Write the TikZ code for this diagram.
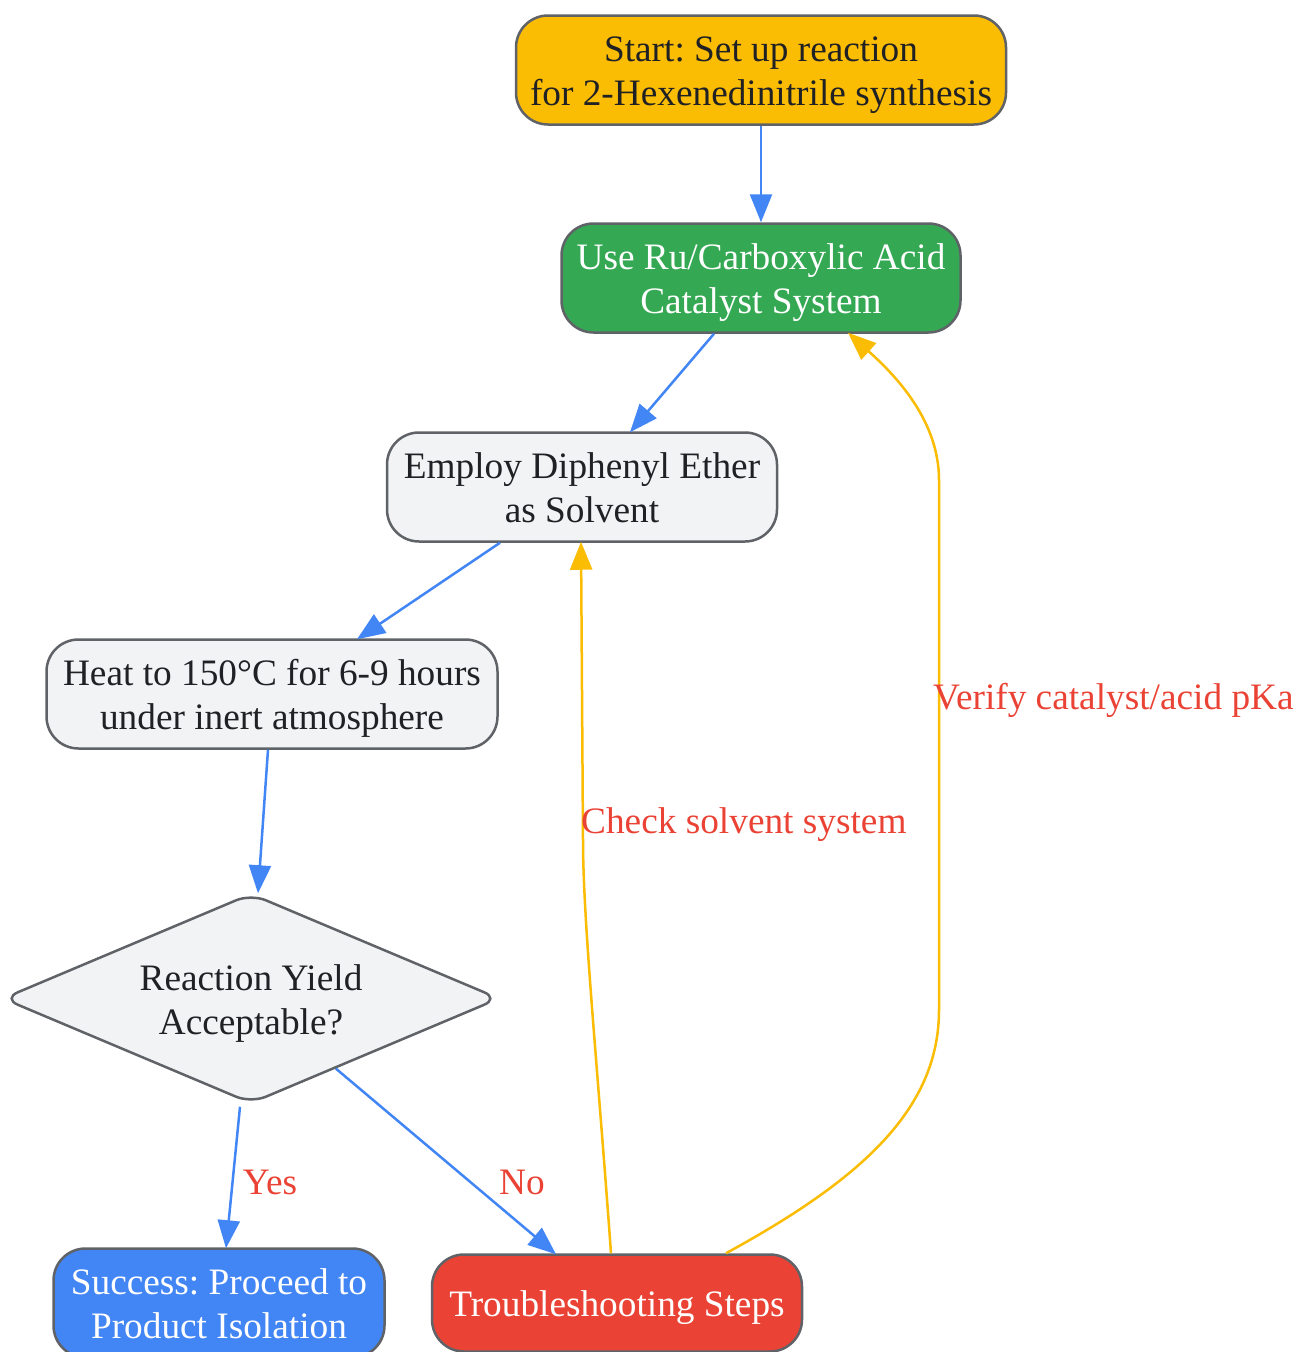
\documentclass[tikz,border=0pt]{standalone}
\usepackage{fontspec}
\setmainfont{Liberation Serif}
\usetikzlibrary{arrows.meta,shapes.geometric,calc}
\definecolor{cborder}{HTML}{5F6368}
\definecolor{ctext}{HTML}{202124}
\definecolor{cgrey}{HTML}{F1F3F4}
\definecolor{cgreen}{HTML}{34A853}
\definecolor{cblue}{HTML}{4285F4}
\definecolor{cred}{HTML}{EA4335}
\definecolor{cyellow}{HTML}{FBBC04}
\frenchspacing
\newcommand{\mylines}[1]{\raisebox{0pt}[\dimexpr\height+10pt\relax][\depth]{\begin{tabular}{@{}c@{}}#1\end{tabular}}}
\tikzset{
  box/.style={draw=cborder, line width=2.5pt, rounded corners=32pt, inner sep=0pt,
    text=ctext, fill=cgrey, minimum height=109pt,
    font=\fontsize{37.3}{44}\selectfont},
  decision/.style={draw=cborder, line width=2.5pt, diamond, shape aspect=2.35,
    rounded corners=16pt, inner sep=0pt, text=ctext, fill=cgrey,
    minimum width=497pt, minimum height=210pt, font=\fontsize{37.3}{44}\selectfont},
  flow/.style={draw=cblue, line width=2.5pt, -{Triangle[length=28pt,width=22pt]}},
  loop/.style={draw=cyellow, line width=2.5pt, -{Triangle[length=28pt,width=22pt]}},
  elabel/.style={text=cred, font=\fontsize{37.3}{44}\selectfont, inner sep=0pt}
}
\begin{document}
\begin{tikzpicture}[x=1pt,y=-1pt]
\useasboundingbox (0,0) rectangle (1298,1352);
\node[box, fill=cyellow, minimum width=490pt] (start) at (761,70) {\mylines{Start: Set up reaction\\for 2-Hexenedinitrile synthesis}};
\node[box, fill=cgreen, text=white, minimum width=399pt] (cat) at (761,278) {\mylines{Use Ru/Carboxylic Acid\\Catalyst System}};
\node[box, minimum width=390pt] (solv) at (582,487) {\mylines{Employ Diphenyl Ether\\as Solvent}};
\node[box, minimum width=451pt] (heat) at (272,694) {\mylines{Heat to 150°C for 6-9 hours\\under inert atmosphere}};
\node[decision] (dia) at (251,998.5) {\mylines{Reaction Yield\\Acceptable?}};
\node[box, fill=cblue, text=white, minimum width=331pt] (succ) at (219,1303) {\mylines{Success: Proceed to\\Product Isolation}};
\node[box, fill=cred, text=white, minimum width=370pt, minimum height=97pt] (tr) at (617,1303) {\mylines{Troubleshooting Steps}};

\draw[flow] (start.south) -- (cat.north);
\draw[flow] ([xshift=-47pt]cat.south) -- ([xshift=48pt,yshift=-1pt]solv.north);
\draw[flow] ([xshift=-82pt]solv.south) -- ([xshift=85pt,yshift=-1pt]heat.north);
\draw[flow] ([xshift=-4pt]heat.south) -- ([xshift=7pt,yshift=-1pt]dia.north);
\draw[flow] ([xshift=-11pt,yshift=-2pt]dia.south) -- ([xshift=7pt,yshift=-1pt]succ.north);
\node[elabel] (lblyes) at (270,1182) {Yes};
\coordinate (noStart) at ($(dia.south)!0.34!(dia.east)$);
\draw[flow] (noStart) -- ([xshift=-61pt,yshift=-1pt]tr.north);
\node[elabel] (lblno) at (522,1182) {No};

\draw[loop] ([xshift=-6pt]tr.north) .. controls (597,1060) and (583,920) .. (583,840) -- ([xshift=-1pt,yshift=1pt]solv.south);
\node[elabel, anchor=west] (lblsolv) at (581,825) {Check solvent system};
\draw[loop] ([xshift=109pt]tr.north) .. controls (860,1180) and (939,1110) .. (939,1010) -- (939,480) .. controls (939,420) and (895,375) .. ([xshift=87pt,yshift=1pt]cat.south);
\node[elabel, anchor=west] (lblcat) at (933,700) {Verify catalyst/acid pKa};
\end{tikzpicture}
\end{document}
